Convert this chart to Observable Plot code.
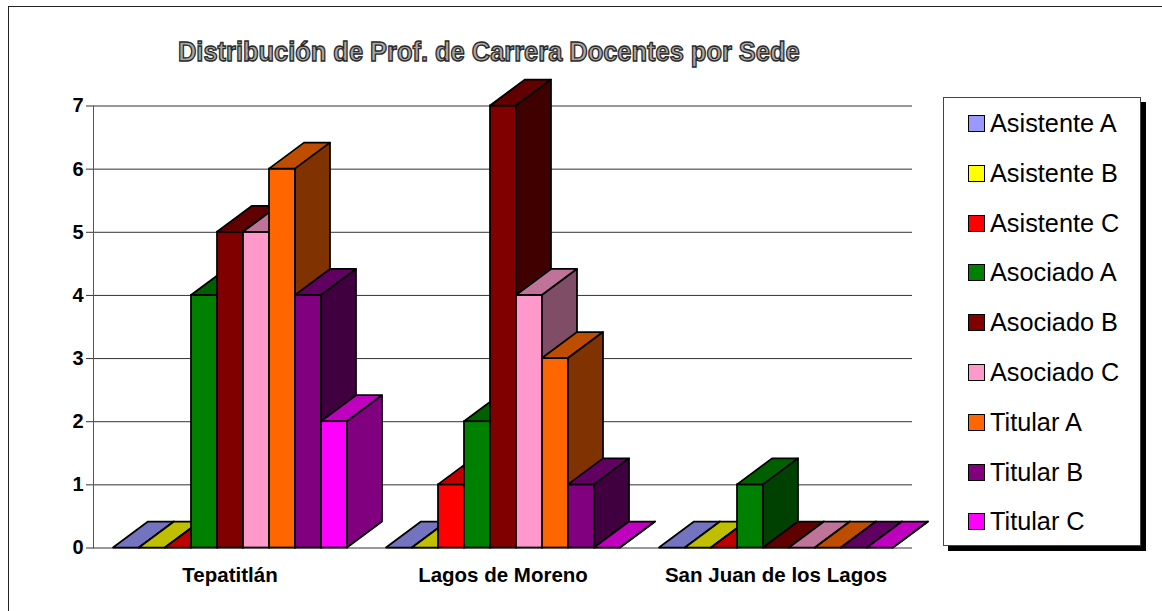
<!DOCTYPE html>
<html lang="es">
<head>
<meta charset="utf-8">
<script src="https://cdn.jsdelivr.net/npm/d3@7"></script>
<script src="https://cdn.jsdelivr.net/npm/@observablehq/plot@0.6"></script>
<style>
html,body{margin:0;padding:0;background:#fff;width:1162px;height:611px;overflow:hidden;font-family:"Liberation Sans",Arial,sans-serif}
#page{position:relative;width:1162px;height:611px;overflow:hidden}
#border{position:absolute;left:7.5px;top:6px;width:1200px;height:700px;border:1.5px solid #222;box-sizing:border-box}
#chart{position:absolute;left:0;top:0}
#title{position:absolute;left:178px;top:35px;font:bold 28px "Liberation Sans",Arial,sans-serif;line-height:34px;white-space:nowrap;color:#a8a8a8;-webkit-text-stroke:1.4px #2a2a2a;transform-origin:0 50%;transform:scaleX(.908)}
#legend{position:absolute;left:943px;top:97px;width:198px;height:449px;box-sizing:border-box;border:1px solid #444;background:#fff;box-shadow:5px 5px 0 #000}
.item{position:absolute;left:24px;height:30px;display:flex;align-items:center;white-space:nowrap;font-size:25.3px;color:#000}
.swatch{width:17px;height:17px;box-sizing:border-box;border:1.75px solid #000;margin-right:5px}
</style>
</head>
<body>
<div id="page">
  <div id="border"></div>
  <div id="chart"></div>
  <div id="title">Distribución de Prof. de Carrera Docentes por Sede</div>
  <div id="legend"></div>
</div>
<script>
const sites = ["Tepatitlán", "Lagos de Moreno", "San Juan de los Lagos"];
const series = ["Asistente A", "Asistente B", "Asistente C", "Asociado A", "Asociado B", "Asociado C", "Titular A", "Titular B", "Titular C"];
const colors = ["#9999ff", "#ffff00", "#ff0000", "#008000", "#800000", "#ff99cc", "#ff6600", "#800080", "#ff00ff"];
const tepatitlan = [0, 0, 0, 4, 5, 5, 6, 4, 2];
const lagos = [0, 0, 1, 2, 7, 4, 3, 1, 0];
const sanJuan = [0, 0, 0, 1, 0, 0, 0, 0, 0];
const yTicks = [0, 1, 2, 3, 4, 5, 6, 7];

const table = [tepatitlan, lagos, sanJuan].flatMap((vals, s) =>
  vals.map((value, i) => ({site: sites[s], serie: series[i], value})));

const depthX = 35, depthY = 26;
const NS = "http://www.w3.org/2000/svg";

// Adds the top and side faces of the pseudo-3D bar right after each front face
function extrude(index, scales, values, dimensions, context, next) {
  const g = next(index, scales, values, dimensions, context);
  for (const rect of [...g.querySelectorAll("rect")]) {
    const x = +rect.getAttribute("x"), y = +rect.getAttribute("y");
    const w = +rect.getAttribute("width"), h = +rect.getAttribute("height");
    const base = d3.rgb(rect.getAttribute("fill"));
    const shade = k => d3.rgb(base.r * k, base.g * k, base.b * k).formatHex();
    const face = (points, fill) => {
      const p = document.createElementNS(NS, "polygon");
      p.setAttribute("points", points.map(q => q.join(",")).join(" "));
      p.setAttribute("fill", fill);
      p.setAttribute("stroke", "#000");
      p.setAttribute("stroke-width", 1.75);
      p.setAttribute("stroke-linejoin", "round");
      return p;
    };
    const top = face([[x, y], [x + w, y], [x + w + depthX, y - depthY], [x + depthX, y - depthY]], shade(0.75));
    const side = face([[x + w, y], [x + w, y + h], [x + w + depthX, y + h - depthY], [x + w + depthX, y - depthY]], shade(0.5));
    rect.after(top, side);
  }
  return g;
}

const chart = Plot.plot({
  width: 1162,
  height: 611,
  marginLeft: 93,
  marginRight: 250,
  marginTop: 105.5,
  marginBottom: 63.5,
  style: {background: "transparent", overflow: "visible", fontFamily: "'Liberation Sans', Arial, sans-serif"},
  fx: {domain: sites, padding: 0, label: null},
  x: {domain: series, padding: 0, insetLeft: 20, insetRight: 19, axis: null},
  y: {domain: [0, 7], label: null},
  color: {domain: series, range: colors},
  marks: [
    Plot.ruleY(yTicks, {stroke: "#333", strokeWidth: 1}),
    Plot.frame({anchor: "left", stroke: "#555", facet: "super"}),
    Plot.axisY({ticks: yTicks, tickSize: 7, tickPadding: 3, tickFormat: d3.format("d"), fontSize: 20, fontWeight: "bold", fill: "#000", stroke: "#333", label: null}),
    Plot.axisFx({anchor: "bottom", tickSize: 0, tickPadding: 19, fontSize: 20.5, fontWeight: "bold", fill: "#000", label: null}),
    Plot.barY(table, {
      fx: "site", x: "serie", y1: () => 0, y2: "value", fill: "serie",
      stroke: "#000", strokeWidth: 1.75, render: extrude
    })
  ]
});
document.getElementById("chart").append(chart);

const legend = document.getElementById("legend");
series.forEach((name, i) => {
  const row = document.createElement("div");
  row.className = "item";
  row.style.top = (10.5 + i * 49.8) + "px";
  const sw = document.createElement("span");
  sw.className = "swatch";
  sw.style.background = colors[i];
  const label = document.createElement("span");
  label.textContent = name;
  row.append(sw, label);
  legend.append(row);
});
</script>
</body>
</html>
